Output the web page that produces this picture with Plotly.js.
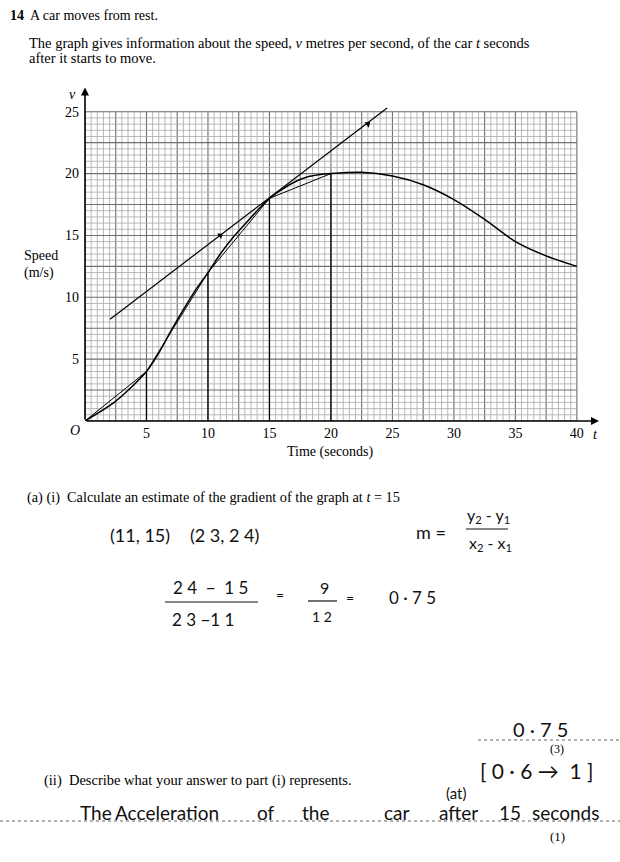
<!DOCTYPE html>
<html>
<head>
<meta charset="utf-8">
<script src="https://cdn.plot.ly/plotly-3.0.1.min.js"></script>
<style>html,body{margin:0;padding:0;background:#fff;}#chart{width:620px;height:862px;}</style>
</head>
<body>
<div id="chart"></div>
<script>
// ---- data ----
const curveT = [0, 2.5, 5, 6, 7, 8, 9, 10, 11, 12, 13, 14, 15, 16, 17, 18, 19, 20, 22.5, 25, 27.5, 30, 32.5, 35, 37.5, 40];
const curveV = [0, 1.6, 4, 5.5, 7.3, 9, 10.6, 12, 13.5, 14.8, 15.9, 17, 18, 18.7, 19.3, 19.7, 19.9, 20, 20.1, 19.8, 19.1, 17.9, 16.3, 14.5, 13.35, 12.5];
const stripT = [0, 5, 10, 15, 20];
const stripV = [0, 4, 12, 18, 20];
const tangentT = [2.04, 24.57];
const tangentV = [8.23, 25.3];
const markT = [11, 23];
const markV = [15, 24];
const xTicks = [5, 10, 15, 20, 25, 30, 35, 40];
const yTicks = [5, 10, 15, 20, 25];
const tMax = 40, vMax = 25;

// ---- page geometry ----
const W = 620, H = 862, ML = 85, MR = 21, MT = 87, MB = 441;
const PW = W - ML - MR, PH = H - MT - MB;
const px = x => (x - ML) / PW;
const py = y => (H - MB - y) / PH;

const serif = 'Liberation Serif, Times New Roman, serif';
const hand = 'Lato, Noto Sans, sans-serif';

// ---- grid paper (shapes) ----
const shapes = [];
for (let i = 0; i <= tMax * 2; i++) {
  const t = i / 2, major = (i % 5 === 0);
  shapes.push({type: 'line', xref: 'x', yref: 'y', x0: t, x1: t, y0: 0, y1: vMax, layer: 'below',
    line: {color: major ? '#6e6e6e' : '#a8a8a8', width: major ? 1.1 : 0.8}});
}
for (let i = 0; i <= vMax * 2; i++) {
  const v = i / 2, major = (i % 5 === 0);
  shapes.push({type: 'line', xref: 'x', yref: 'y', x0: 0, x1: tMax, y0: v, y1: v, layer: 'below',
    line: {color: major ? '#6e6e6e' : '#a8a8a8', width: major ? 1.1 : 0.8}});
}
// dotted answer lines and fraction bars
function hline(x0, x1, y, dash, color, width) {
  shapes.push({type: 'line', xref: 'paper', yref: 'paper', x0: px(x0), x1: px(x1), y0: py(y), y1: py(y),
    line: {color: color, width: width, dash: dash}});
}
hline(478, 620, 740, 'dot', '#666', 1);
hline(0, 620, 821, 'dot', '#666', 1);
hline(466, 508, 529, 'solid', '#111', 1.2);
hline(165, 258, 602, 'solid', '#111', 1.2);
hline(308, 337, 601, 'solid', '#111', 1.2);

// ---- traces ----
const traces = [];
traces.push({x: curveT, y: curveV, mode: 'lines', line: {color: '#000', width: 1.5, shape: 'spline', smoothing: 0.8}, hoverinfo: 'skip'});
traces.push({x: stripT, y: stripV, mode: 'lines', line: {color: '#000', width: 1}, hoverinfo: 'skip'});
for (let i = 1; i < stripT.length; i++) {
  traces.push({x: [stripT[i], stripT[i]], y: [0, stripV[i]], mode: 'lines', line: {color: '#000', width: 1.3}, hoverinfo: 'skip'});
}
traces.push({x: tangentT, y: tangentV, mode: 'lines', line: {color: '#000', width: 1.2}, hoverinfo: 'skip'});
traces.push({x: markT, y: markV, mode: 'markers', marker: {symbol: 'triangle-up', size: 6, angle: 53, color: '#000'}, hoverinfo: 'skip', cliponaxis: false});

// ---- annotations ----
const annotations = [];
function ann(text, x, y, o) {
  o = o || {};
  annotations.push({text: text, xref: 'paper', yref: 'paper', x: px(x), y: py(y), showarrow: false,
    xanchor: o.xa || 'left', yanchor: o.ya || 'middle',
    font: {family: o.family || serif, size: o.size || 14, color: o.color || '#000', style: o.style || 'normal', weight: o.weight || 'normal'}});
}
// axis arrows
annotations.push({x: 41.8, y: 0, ax: 0, ay: 0, axref: 'x', ayref: 'y', xref: 'x', yref: 'y', text: '', showarrow: true,
  arrowhead: 2, arrowsize: 1, arrowwidth: 1.6, arrowcolor: '#000', standoff: 0});
annotations.push({x: 0, y: 26.95, ax: 0, ay: 0, axref: 'x', ayref: 'y', xref: 'x', yref: 'y', text: '', showarrow: true,
  arrowhead: 2, arrowsize: 1, arrowwidth: 1.6, arrowcolor: '#000', standoff: 0});

ann('<b>14</b>', 8, 15);
ann('A car moves from rest.', 28, 15);
ann('The graph gives information about the speed, <i>v</i> metres per second, of the car <i>t</i> seconds', 27, 43, {size: 14.5});
ann('after it starts to move.', 27, 58, {size: 14.5});
ann('<i>v</i>', 72, 95, {xa: 'center'});
ann('Speed', 22, 255);
ann('(m/s)', 22, 273);
ann('<i>O</i>', 75, 431, {xa: 'center'});
ann('<i>t</i>', 595, 434, {xa: 'center'});
ann('Time (seconds)', 330, 452, {xa: 'center'});
ann('(a) (i)  Calculate an estimate of the gradient of the graph at <i>t</i> = 15', 25, 497, {size: 14.3});
ann('(ii)  Describe what your answer to part (i) represents.', 42, 780, {size: 14.5});
ann('(3)', 557, 749, {xa: 'center', size: 12});
ann('(1)', 557, 836, {xa: 'center', size: 13});

// handwriting
const hs = {family: hand, size: 18, color: '#111'};
ann('(11, 15)', 108, 535, hs);
ann('(2 3, 2 4)', 188, 535, hs);
ann('m =', 414, 532, hs);
ann('y<sub>2</sub> - y<sub>1</sub>', 488, 515, {family: hand, size: 16, color: '#111', xa: 'center'});
ann('x<sub>2</sub> - x<sub>1</sub>', 490, 543, {family: hand, size: 16, color: '#111', xa: 'center'});
ann('2 4  −  1 5', 210, 587, {family: hand, size: 17, color: '#111', xa: 'center'});
ann('2 3 −1 1', 203, 619, {family: hand, size: 17, color: '#111', xa: 'center'});
ann('=', 280, 594, {family: hand, size: 14, color: '#111', xa: 'center'});
ann('9', 324, 587, {family: hand, size: 16, color: '#111', xa: 'center'});
ann('1 2', 322, 616, {family: hand, size: 14, color: '#111', xa: 'center'});
ann('=', 350, 597, {family: hand, size: 14, color: '#111', xa: 'center'});
ann('0 · 7 5', 387, 597, {family: hand, size: 17, color: '#111'});
ann('0 · 7 5', 540, 729, {family: hand, size: 20, color: '#111', xa: 'center'});
ann('[ 0 · 6 →  1 ]', 478, 770, {family: hand, size: 21, color: '#111'});
ann('(at)', 444, 793, {family: hand, size: 15, color: '#111'});
const words = [['The', 78], ['Acceleration', 113], ['of', 255], ['the', 300], ['car', 382], ['after', 437], ['15', 497], ['seconds', 530]];
words.forEach(w => ann(w[0], w[1], 812, {family: hand, size: 19, color: '#111'}));

const layout = {
  width: W, height: H,
  margin: {l: ML, r: MR, t: MT, b: MB, pad: 0},
  paper_bgcolor: '#fff', plot_bgcolor: '#fff',
  showlegend: false,
  xaxis: {range: [0, 41.8], showgrid: false, zeroline: false, showline: false, fixedrange: true,
    tickvals: xTicks, ticktext: xTicks.map(String), ticks: '', ticklabelstandoff: 2,
    tickfont: {family: serif, size: 14, color: '#000'}},
  yaxis: {range: [0, 27], showgrid: false, zeroline: false, showline: false, fixedrange: true,
    tickvals: yTicks, ticktext: yTicks.map(String), ticks: '', ticklabelstandoff: 5,
    tickfont: {family: serif, size: 14, color: '#000'}},
  shapes: shapes,
  annotations: annotations
};
Plotly.newPlot('chart', traces, layout, {staticPlot: true, displayModeBar: false});
</script>
</body>
</html>
